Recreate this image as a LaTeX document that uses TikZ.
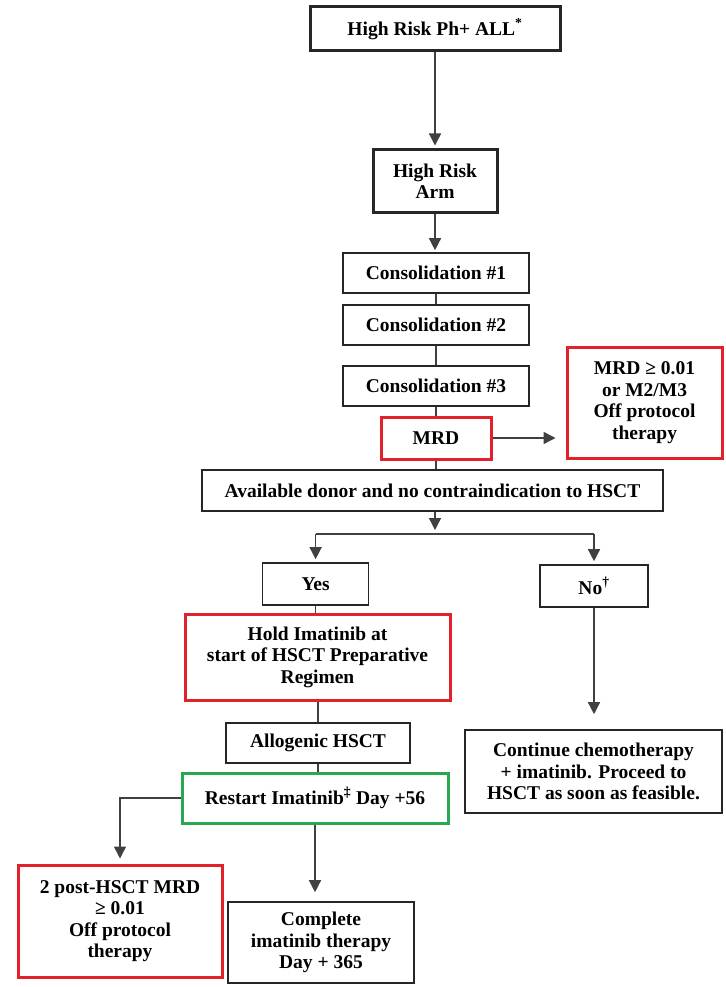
\documentclass[tikz,border=0pt]{standalone}
\usepackage{fontspec}
\setmainfont{Liberation Serif}
\usetikzlibrary{arrows.meta}
\definecolor{bred}{RGB}{226,34,42}
\definecolor{bgreen}{RGB}{40,168,80}
\begin{document}
\begin{tikzpicture}[x=1pt,y=-1pt,
 box/.style={draw=black!85, line width=1.6pt, inner sep=0pt, align=center, font=\fontsize{19.5}{21.5}\selectfont\bfseries},
 thickbox/.style={box, line width=3pt},
 redbox/.style={box, draw=bred, line width=3pt},
 greenbox/.style={box, draw=bgreen, line width=3pt},
 conn/.style={draw=black!75, line width=1.4pt},
 arr/.style={conn, -{Triangle[length=12pt,width=12pt]}},
]
\useasboundingbox[fill=white] (0,0) rectangle (725,987);

\node[thickbox, minimum width=250pt, minimum height=44pt] (top) at (435,29) {High Risk Ph+ ALL\textsuperscript{*}};
\node[thickbox, minimum width=124pt, minimum height=62pt] (arm) at (435,181) {High Risk\\Arm};
\node[box, minimum width=186pt, minimum height=40pt] (c1) at (436,273) {Consolidation \#1};
\node[box, minimum width=186pt, minimum height=40pt] (c2) at (436,325) {Consolidation \#2};
\node[box, minimum width=186pt, minimum height=40pt] (c3) at (436,386) {Consolidation \#3};
\node[redbox, minimum width=110pt, minimum height=42pt] (mrd) at (436,438) {MRD};
\node[redbox, minimum width=155pt, minimum height=111pt] (off) at (644.5,402.5) {MRD ≥ 0.01\\or M2/M3\\Off protocol\\therapy};
\node[box, minimum width=461pt, minimum height=41pt] (avail) at (432.5,490.5) {Available donor and no contraindication to HSCT};
\coordinate (split) at (435,534);
\node[box, minimum width=106pt, minimum height=42pt] (yes) at (315.6,584) {Yes};
\node[box, minimum width=108pt, minimum height=42pt] (no) at (594,586) {No\textsuperscript{†}};
\node[redbox, minimum width=265pt, minimum height=86pt] (hold) at (317.5,657) {Hold Imatinib at\\start of HSCT Preparative\\Regimen};
\node[box, minimum width=184pt, minimum height=40pt] (allo) at (318,743) {Allogenic HSCT};
\node[greenbox, minimum width=266pt, minimum height=50pt] (restart) at (315,798) {Restart Imatinib\textsuperscript{‡} Day +56};
\node[redbox, minimum width=204pt, minimum height=112pt] (post) at (120,921) {2 post-HSCT MRD\\≥ 0.01\\Off protocol\\therapy};
\node[box, minimum width=186pt, minimum height=81pt] (complete) at (321,942.5) {Complete\\imatinib therapy\\Day + 365};
\node[box, minimum width=257pt, minimum height=83pt] (cont) at (593.5,771.5) {Continue chemotherapy\\+ imatinib. Proceed to\\HSCT as soon as feasible.};

\draw[arr, shorten >=3pt] (top.south) -- (arm.north);
\draw[arr, shorten >=2pt] (arm.south) -- (arm.south |- c1.north);
\draw[conn] (c1.south) -- (c2.north);
\draw[conn] (c2.south) -- (c3.north);
\draw[conn] (c3.south) -- (mrd.north);
\draw[conn] (mrd.south) -- (mrd.south |- avail.north);
\draw[arr, shorten >=10pt] (mrd.east) -- (mrd.east -| off.west);
\draw[arr, shorten >=4pt] (avail.south -| split) -- (split);
\draw[conn] (split -| yes.north) -- (split -| no.north);
\draw[arr, shorten >=3pt] (split -| yes.north) -- (yes.north);
\draw[arr, shorten >=3pt] (split -| no.north) -- (no.north);
\draw[conn] (yes.south) -- (yes.south |- hold.north);
\draw[conn] (allo.north |- hold.south) -- (allo.north);
\draw[conn] (allo.south) -- (allo.south |- restart.north);
\draw[arr, shorten >=15pt] (no.south) -- (no.south |- cont.north);
\draw[arr, shorten >=5pt] (restart.west) -| (post.north);
\draw[arr, shorten >=9pt] (restart.south) -- (restart.south |- complete.north);
\end{tikzpicture}
\end{document}
